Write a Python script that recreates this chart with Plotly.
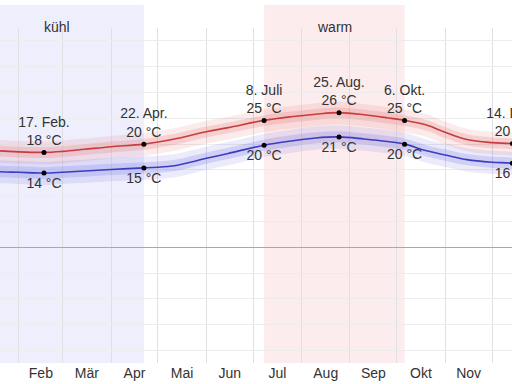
import plotly.graph_objects as go

# ---- data ----
dates = ["2023-01-01", "2023-01-20", "2023-02-01", "2023-02-17", "2023-03-01", "2023-03-15",
         "2023-04-01", "2023-04-22", "2023-05-10", "2023-06-01", "2023-06-15", "2023-07-08",
         "2023-07-25", "2023-08-10", "2023-08-25", "2023-09-10", "2023-09-25", "2023-10-06",
         "2023-10-20", "2023-11-01", "2023-11-15", "2023-12-01", "2023-12-14", "2023-12-31"]

high_mean = [19.3, 18.7, 18.5, 18.4, 18.6, 19.0, 19.5, 20.0, 20.9, 22.4, 23.2, 24.6,
             25.3, 25.8, 26.1, 25.7, 25.1, 24.6, 23.7, 22.3, 20.9, 20.3, 20.1, 19.4]
high_p90 = [21.4, 20.8, 20.6, 20.5, 20.7, 21.1, 21.6, 22.1, 23.0, 24.5, 25.3, 26.7,
            27.4, 27.9, 28.2, 27.8, 27.2, 26.7, 25.8, 24.4, 23.0, 22.4, 22.2, 21.5]
high_p75 = [20.3, 19.7, 19.5, 19.4, 19.6, 20.0, 20.5, 21.0, 21.9, 23.4, 24.2, 25.6,
            26.3, 26.8, 27.1, 26.7, 26.1, 25.6, 24.7, 23.3, 21.9, 21.3, 21.1, 20.4]
high_p25 = [18.2, 17.6, 17.4, 17.3, 17.5, 17.9, 18.4, 18.9, 19.8, 21.3, 22.1, 23.5,
            24.2, 24.7, 25.0, 24.6, 24.0, 23.5, 22.6, 21.2, 19.8, 19.2, 19.0, 18.3]
high_p10 = [17.0, 16.4, 16.2, 16.1, 16.3, 16.7, 17.2, 17.7, 18.6, 20.1, 20.9, 22.3,
            23.0, 23.5, 23.8, 23.4, 22.8, 22.3, 21.4, 20.0, 18.6, 18.0, 17.8, 17.1]

low_mean = [15.3, 14.65, 14.55, 14.4, 14.55, 14.8, 15.1, 15.4, 15.75, 17.25, 18.2, 19.8,
            20.6, 21.2, 21.4, 21.0, 20.5, 20.0, 18.7, 17.9, 17.0, 16.5, 16.3, 15.5]
low_p90 = [17.5, 16.9, 16.8, 16.6, 16.8, 17.0, 17.3, 17.6, 18.0, 19.5, 20.4, 22.0,
           22.8, 23.4, 23.6, 23.2, 22.7, 22.2, 20.9, 20.1, 19.2, 18.7, 18.5, 17.7]
low_p75 = [16.4, 15.8, 15.7, 15.5, 15.7, 15.9, 16.2, 16.5, 16.9, 18.4, 19.3, 20.9,
           21.7, 22.3, 22.5, 22.1, 21.6, 21.1, 19.8, 19.0, 18.1, 17.6, 17.4, 16.6]
low_p25 = [14.2, 13.6, 13.5, 13.3, 13.5, 13.7, 14.0, 14.3, 14.7, 16.2, 17.1, 18.7,
           19.5, 20.1, 20.3, 19.9, 19.4, 18.9, 17.6, 16.8, 15.9, 15.4, 15.2, 14.4]
low_p10 = [13.0, 12.4, 12.3, 12.1, 12.3, 12.5, 12.8, 13.1, 13.5, 15.0, 15.9, 17.5,
           18.3, 18.9, 19.1, 18.7, 18.2, 17.7, 16.4, 15.6, 14.7, 14.2, 14.0, 13.2]

label_dates = ["2023-02-17", "2023-04-22", "2023-07-08", "2023-08-25", "2023-10-06", "2023-12-14"]
label_names = ["17. Feb.", "22. Apr.", "8. Juli", "25. Aug.", "6. Okt.", "14. Dez."]
label_high = [18.4, 20.0, 24.6, 26.1, 24.6, 20.1]
label_low = [14.4, 15.4, 19.8, 21.4, 20.0, 16.3]

# German month names for the axis (English default -> German)
month_alias = {"Mar": "Mär", "May": "Mai", "Oct": "Okt", "Dec": "Dez"}

season_names = ["kühl", "warm", ""]
season_start = ["2023-01-01", "2023-07-08", "2023-12-14"]
season_end = ["2023-04-22", "2023-10-06", "2023-12-31"]
season_label_pos = ["2023-02-25 12:00", "2023-08-22", "2023-12-22"]
season_colors = ["rgb(238,238,253)", "rgb(253,236,237)", "rgb(238,238,253)"]

x_range = ["2023-01-19 20:00", "2023-12-13 19:30"]
y_range = [-22.4, 42.5]

RED = "#c83c3c"
BLUE = "#3c3cc0"
TXT = "#333333"
FONT = "Liberation Sans, Arial, sans-serif"

fig = go.Figure()


def band(lo, hi, color):
    fig.add_trace(go.Scatter(x=dates, y=lo, mode="lines", line=dict(width=0, shape="spline"),
                             hoverinfo="skip", showlegend=False))
    fig.add_trace(go.Scatter(x=dates, y=hi, mode="lines", line=dict(width=0, shape="spline"),
                             fill="tonexty", fillcolor=color, hoverinfo="skip", showlegend=False))


band(high_p10, high_p90, "rgba(225,90,90,0.12)")
band(high_p25, high_p75, "rgba(225,90,90,0.18)")
band(low_p10, low_p90, "rgba(90,90,225,0.12)")
band(low_p25, low_p75, "rgba(90,90,225,0.18)")

fig.add_trace(go.Scatter(x=dates, y=high_mean, mode="lines",
                         line=dict(color=RED, width=1.6, shape="spline"), showlegend=False))
fig.add_trace(go.Scatter(x=dates, y=low_mean, mode="lines",
                         line=dict(color=BLUE, width=1.6, shape="spline"), showlegend=False))

high_text = [f"{n}<br>{round(v)} °C" for n, v in zip(label_names, label_high)]
low_text = [f"{round(v)} °C" for v in label_low]

fig.add_trace(go.Scatter(x=label_dates, y=label_high, mode="markers+text", text=high_text,
                         textposition="top center", textfont=dict(size=14, color=TXT, family=FONT),
                         marker=dict(color="black", size=5), showlegend=False))
fig.add_trace(go.Scatter(x=label_dates, y=label_low, mode="markers+text", text=low_text,
                         textposition="bottom center", textfont=dict(size=14, color=TXT, family=FONT),
                         marker=dict(color="black", size=5), showlegend=False))

for s, e, c in zip(season_start, season_end, season_colors):
    fig.add_shape(type="rect", xref="x", yref="paper", x0=s, x1=e, y0=0, y1=1.0687,
                  fillcolor=c, line=dict(width=0), layer="below")
for n, p in zip(season_names, season_label_pos):
    if n:
        fig.add_annotation(x=p, y=1.033, xref="x", yref="paper", text=n, showarrow=False,
                           font=dict(size=14, color=TXT, family=FONT))

fig.update_xaxes(type="date", range=x_range, dtick="M1", tick0="2023-01-01", tickformat="%b",
                 ticklabelmode="period", labelalias=month_alias,
                 showgrid=True, gridcolor="#e0e0e4", gridwidth=1,
                 ticks="", tickfont=dict(size=14, color=TXT, family=FONT), zeroline=False,
                 showline=False)
fig.update_yaxes(range=y_range, dtick=5, tick0=0, showgrid=True, gridcolor="#ececec",
                 zeroline=True, zerolinecolor="#a8a8a8", zerolinewidth=1, showticklabels=False,
                 ticks="")

fig.update_layout(width=512, height=384, margin=dict(l=0, r=0, t=28, b=21),
                  paper_bgcolor="white", plot_bgcolor="white",
                  font=dict(family=FONT, size=14, color=TXT), showlegend=False)

fig.write_html("out.html")
